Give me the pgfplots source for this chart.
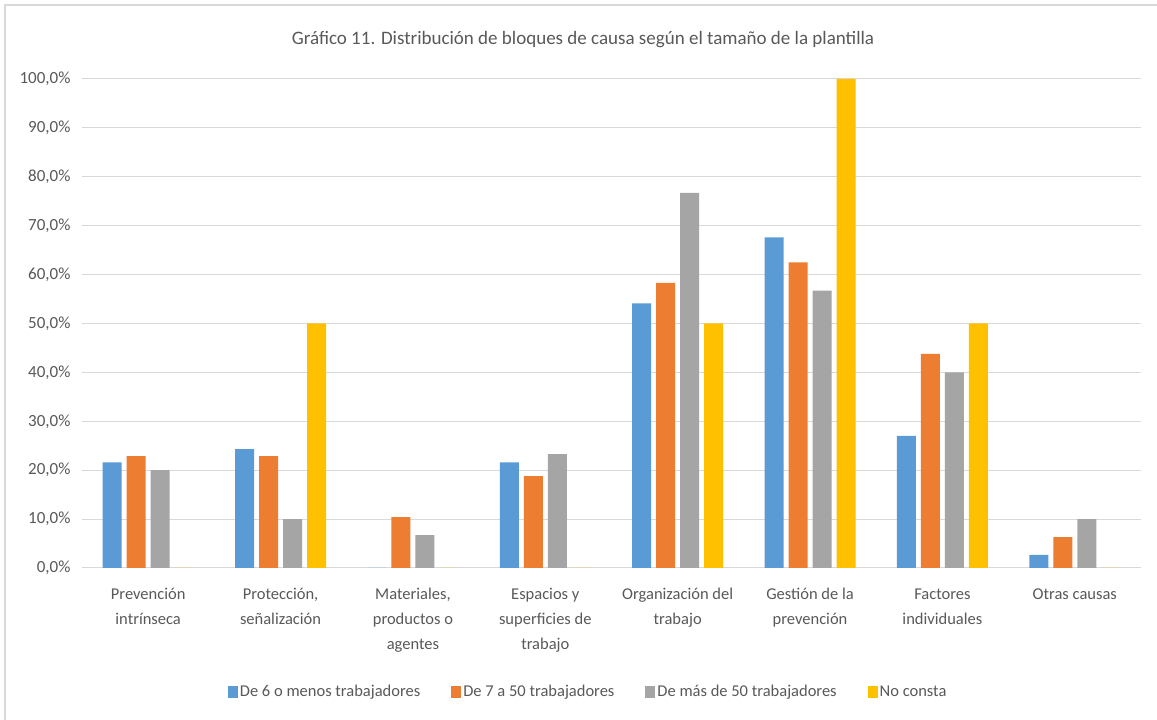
\documentclass[border=0pt]{standalone}
\usepackage{pgfplots}
\pgfplotsset{compat=1.18}
\usepackage{fontspec}
\setmainfont{Carlito}
\definecolor{c1}{HTML}{5B9BD5}
\definecolor{c2}{HTML}{ED7D31}
\definecolor{c3}{HTML}{A5A5A5}
\definecolor{c4}{HTML}{FFC000}
\definecolor{txt}{HTML}{595959}
\definecolor{grd}{HTML}{D9D9D9}
\begin{document}
\begin{tikzpicture}
\useasboundingbox (0pt,0pt) rectangle (1157pt,720pt);
\fill[white] (0pt,0pt) rectangle (1157pt,720pt);
\draw[grd, line width=1.5pt] (5pt,-20pt) -- (5pt,715pt) -- (1180pt,715pt);
\node[txt, font=\fontsize{19}{23}\selectfont] at (583pt,680pt) {Gráfico 11. Distribución de bloques de causa según el tamaño de la plantilla};
\begin{axis}[
  at={(82pt,152pt)}, anchor=south west,
  scale only axis, width=1059pt, height=489pt,
  xmin=-0.5, xmax=7.5, ymin=0, ymax=100,
  ybar=5pt, bar width=19pt,
  axis line style={draw=none},
  major tick length=0pt,
  ymajorgrids, grid style={grd, line width=1pt},
  ytick={0,10,...,100},
  yticklabel={\pgfmathprintnumber[fixed,fixed zerofill,precision=1,use comma]{\tick}\%},
  yticklabel style={font=\fontsize{17}{20}\selectfont, text=txt, xshift=-8pt},
  /pgf/number format/assume math mode=true,
  xtick={0,...,7},
  xticklabels={{Prevención\\intrínseca},{Protección,\\señalización},{Materiales,\\productos o\\agentes},{Espacios y\\superficies de\\trabajo},{Organización del\\trabajo},{Gestión de la\\prevención},{Factores\\individuales},{Otras causas}},
  xticklabel style={align=center, font=\fontsize{16.5}{25}\selectfont, text=txt, yshift=-17pt},
  legend columns=4,
  legend style={at={(0.478,-0.253)}, anchor=center, draw=none, fill=none, font=\fontsize{16.5}{20}\selectfont, text=txt,
    /tikz/every even column/.append style={column sep=29pt}},
  legend image code/.code={\fill[#1,draw=none] (0pt,-6pt) rectangle (10pt,6pt);},
]
\addplot[fill=c1, draw=none] coordinates {(0,21.6) (1,24.3) (2,0) (3,21.6) (4,54.1) (5,67.6) (6,27.0) (7,2.7)};
\addplot[fill=c2, draw=none] coordinates {(0,22.9) (1,22.9) (2,10.4) (3,18.8) (4,58.3) (5,62.5) (6,43.8) (7,6.3)};
\addplot[fill=c3, draw=none] coordinates {(0,20.0) (1,10.0) (2,6.7) (3,23.3) (4,76.7) (5,56.7) (6,40.0) (7,10.0)};
\addplot[fill=c4, draw=none] coordinates {(0,0) (1,50) (2,0) (3,0) (4,50) (5,100) (6,50) (7,0)};
\legend{De 6 o menos trabajadores, De 7 a 50 trabajadores, De más de 50 trabajadores, No consta}
\end{axis}
\end{tikzpicture}
\end{document}
